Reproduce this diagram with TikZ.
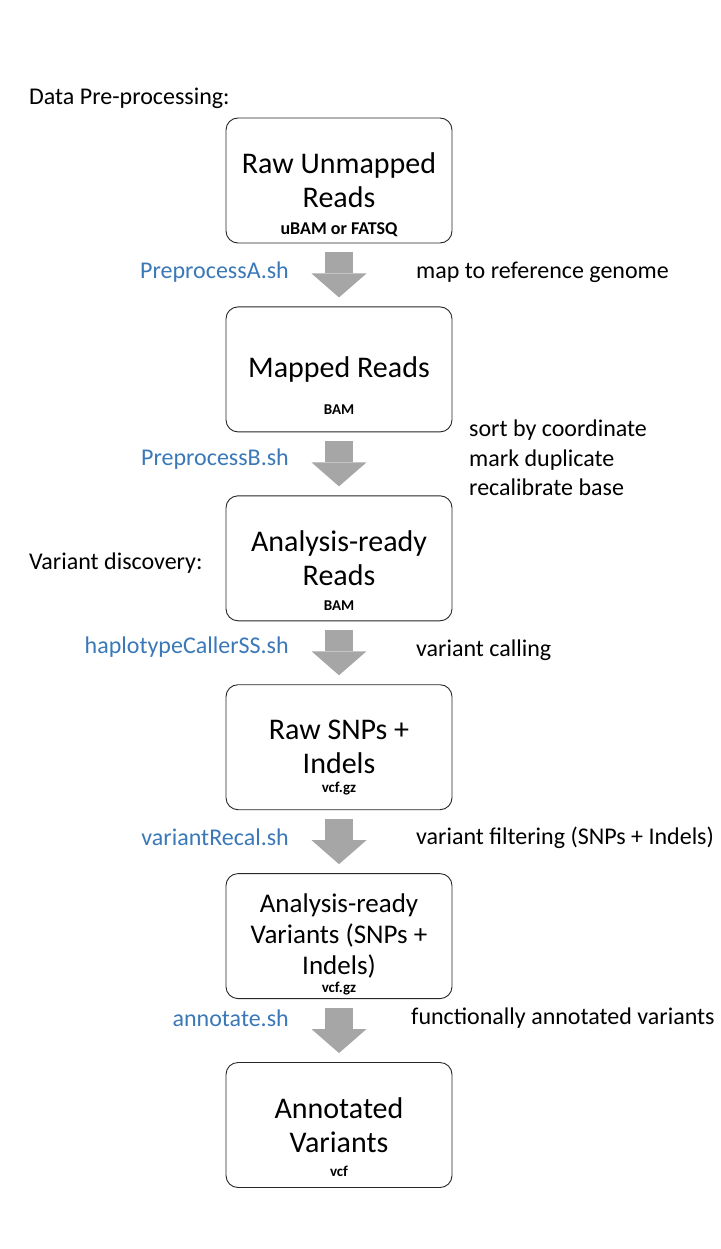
\documentclass[tikz,border=0pt]{standalone}
\usepackage{fontspec}
\setmainfont{Carlito}
\usetikzlibrary{arrows.meta,positioning,calc}
\definecolor{scriptblue}{HTML}{3A78B8}
\definecolor{arrowgray}{HTML}{A6A6A6}
\tikzstyle{stepbox}=[draw=black!85, line width=0.9pt, rounded corners=12pt, minimum width=226pt, minimum height=125pt, align=center, inner sep=0pt, font=\fontsize{30}{34}\selectfont]
\tikzstyle{format label}=[inner sep=0pt, font=\bfseries\fontsize{15}{17}\selectfont]
\tikzstyle{script label}=[anchor=east, inner sep=0pt, text=scriptblue, font=\fontsize{24}{29}\selectfont]
\tikzstyle{step note}=[anchor=west, align=left, inner sep=0pt, font=\fontsize{24}{29.5}\selectfont]
\tikzstyle{stage label}=[anchor=west, inner sep=0pt, font=\fontsize{24}{29}\selectfont]
\tikzstyle{pipe arrow}=[draw=arrowgray, line width=28pt, shorten <=9pt, shorten >=9pt, -{Triangle[width=55pt,length=24pt,line width=0pt]}]

\begin{document}
\begin{tikzpicture}[x=1pt, y=-1pt]
  \useasboundingbox (0,0) rectangle (720,1249);

  \node[stage label] (preLabel) at (29,98) {Data Pre-processing:};
  \node[stepbox] (rawReads) at (339,180.5) {Raw Unmapped\\Reads};
  \node[format label, font=\bfseries\fontsize{18}{20}\selectfont] (rawFormat) at ($(rawReads.north)+(0,112)$) {uBAM or FATSQ};

  \node[stepbox, below = 63pt of rawReads] (mappedReads) {Mapped Reads};
  \node[format label] (mappedFormat) at ($(mappedReads.north)+(0,103)$) {BAM};
  \draw[pipe arrow] (rawReads) -- (mappedReads);
  \node[script label] (scriptA) at (289,272) {PreprocessA.sh};
  \node[step note] (noteA) at (416,272) {map to reference genome};

  \node[stepbox, below = 63pt of mappedReads] (readyReads) {Analysis-ready\\Reads};
  \node[format label] (readyFormat) at ($(readyReads.north)+(0,110)$) {BAM};
  \draw[pipe arrow] (mappedReads) -- (readyReads);
  \node[script label] (scriptB) at (289,459) {PreprocessB.sh};
  \node[step note] (noteB) at (469,458) {sort by coordinate\\mark duplicate\\recalibrate base};
  \node[stage label] (discLabel) at (29,563) {Variant discovery:};

  \node[stepbox, below = 63pt of readyReads] (rawSnps) {Raw SNPs +\\Indels};
  \node[format label] (rawSnpsFormat) at ($(rawSnps.north)+(0,104)$) {vcf.gz};
  \draw[pipe arrow] (readyReads) -- (rawSnps);
  \node[script label] (scriptC) at (289,647) {haplotypeCallerSS.sh};
  \node[step note] (noteC) at (416,650) {variant calling};

  \node[stepbox, below = 63pt of rawSnps, font=\fontsize{27}{31}\selectfont] (readyVariants) {Analysis-ready\\Variants (SNPs +\\Indels)};
  \node[format label] (readyVarFormat) at ($(readyVariants.north)+(0,115)$) {vcf.gz};
  \draw[pipe arrow] (rawSnps) -- (readyVariants);
  \node[script label] (scriptD) at (289,837) {variantRecal.sh};
  \node[step note] (noteD) at (416,838) {variant filtering (SNPs + Indels)};

  \node[stepbox, below = 63pt of readyVariants] (annotated) {Annotated\\Variants};
  \node[format label] (annotatedFormat) at ($(annotated.north)+(0,109)$) {vcf};
  \draw[pipe arrow] (readyVariants) -- (annotated);
  \node[script label] (scriptE) at (289,1018) {annotate.sh};
  \node[step note] (noteE) at (411,1018) {functionally annotated variants};
\end{tikzpicture}
\end{document}
